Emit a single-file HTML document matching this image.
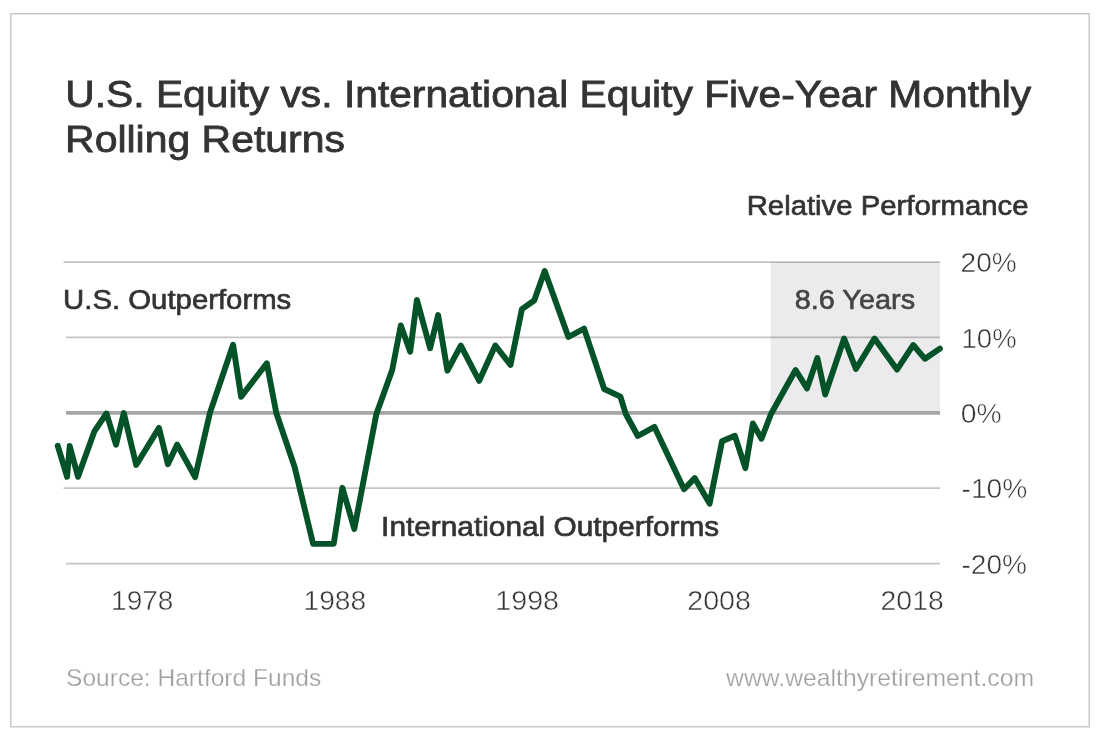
<!DOCTYPE html>
<html>
<head>
<meta charset="utf-8">
<style>
html,body{margin:0;padding:0;background:#fff;}
body{width:1100px;height:738px;overflow:hidden;}
svg{display:block;will-change:transform;}
text{font-family:"Liberation Sans",Arial,Helvetica,sans-serif;}
</style>
</head>
<body>
<svg width="1100" height="738" viewBox="0 0 1100 738">
  <rect x="0" y="0" width="1100" height="738" fill="#fff"/>
  <rect x="10.75" y="13.75" width="1078.5" height="713" fill="#fff" stroke="#c9c9c9" stroke-width="1.5"/>

  <!-- title -->
  <g fill="#333" stroke="#333" stroke-width="0.8">
  <text x="65.3" y="106.8" font-size="37.5" textLength="965.8" lengthAdjust="spacingAndGlyphs">U.S. Equity vs. International Equity Five-Year Monthly</text>
  <text x="65.1" y="151.8" font-size="37.5" textLength="279.8" lengthAdjust="spacingAndGlyphs">Rolling Returns</text>
  </g>

  <!-- labels -->
  <g fill="#333" stroke="#333" stroke-width="0.65">
  <text x="746.7" y="214.8" font-size="27" textLength="281.8" lengthAdjust="spacingAndGlyphs">Relative Performance</text>
  </g>

  <!-- shaded region -->
  <rect x="770.6" y="262" width="169.3" height="150" fill="#ebebed"/>

  <!-- grid -->
  <g stroke="#000" stroke-opacity="0.23" stroke-width="1.6">
    <line x1="63.5" y1="262.1" x2="940" y2="262.1"/>
    <line x1="66" y1="337.4" x2="940" y2="337.4"/>
    <line x1="63.5" y1="488.1" x2="940" y2="488.1"/>
    <line x1="66" y1="563.6" x2="940" y2="563.6"/>
  </g>
  <line x1="66" y1="412.9" x2="940" y2="412.9" stroke="#a6a6a8" stroke-width="3.6"/>

  <g fill="#333" stroke="#333" stroke-width="0.65">
  <text x="63.1" y="309.2" font-size="27" textLength="228.2" lengthAdjust="spacingAndGlyphs">U.S. Outperforms</text>
  <text x="381.1" y="535.6" font-size="27.5" textLength="338.2" lengthAdjust="spacingAndGlyphs">International Outperforms</text>
  </g>
  <g fill="#444" stroke="#444" stroke-width="0.6">
  <text x="794.7" y="309.3" font-size="27.5" textLength="120.4" lengthAdjust="spacingAndGlyphs">8.6 Years</text>
  </g>

  <!-- y labels -->
  <g fill="#333" stroke="#fff" stroke-width="0.5">
  <text x="960.6" y="272.2" font-size="27" textLength="56.2" lengthAdjust="spacingAndGlyphs">20%</text>
  <text x="961.6" y="347.6" font-size="27" textLength="55.0" lengthAdjust="spacingAndGlyphs">10%</text>
  <text x="960.8" y="422.8" font-size="27" textLength="40.8" lengthAdjust="spacingAndGlyphs">0%</text>
  <text x="961.5" y="498.2" font-size="27" textLength="65.8" lengthAdjust="spacingAndGlyphs">-10%</text>
  <text x="961.5" y="573.8" font-size="27" textLength="65.5" lengthAdjust="spacingAndGlyphs">-20%</text>
  </g>
  <!-- x labels -->
  <g fill="#333" stroke="#fff" stroke-width="0.5">
  <text x="111.1" y="609.6" font-size="27" textLength="62.3" lengthAdjust="spacingAndGlyphs">1978</text>
  <text x="303.5" y="609.6" font-size="27" textLength="62.6" lengthAdjust="spacingAndGlyphs">1988</text>
  <text x="495.3" y="609.6" font-size="27" textLength="63.7" lengthAdjust="spacingAndGlyphs">1998</text>
  <text x="687.2" y="609.6" font-size="27" textLength="63.8" lengthAdjust="spacingAndGlyphs">2008</text>
  <text x="880.6" y="609.6" font-size="27" textLength="63.1" lengthAdjust="spacingAndGlyphs">2018</text>
  </g>

  <!-- data line -->
  <polyline fill="none" stroke="#045227" stroke-width="5.9" stroke-linejoin="round" stroke-linecap="round"
    points="57.7,445.7 67.1,476.8 69.7,446 78,476.8 94.5,431.1 106.5,413.5 116,444.7 123.8,413 136.2,465 159,427.9 167.9,464.2 177.2,444.6 195.1,477.2 210,412.6 233.1,344.8 241.1,396.8 266.8,363.3 276.3,413 294.7,467.2 313.1,543.9 333.7,543.9 342.4,487.8 354.3,529 376.3,414.3 392.2,370 400.8,325.5 410.2,351.7 416.9,299.9 430.1,348.2 438.1,315.1 447.4,370.7 460.8,345.6 479.2,380.8 495.3,345.5 510.5,365 521.9,309.1 534.2,300.5 544.7,271.1 568.4,337 584.1,328.6 604.2,389 620.4,396.6 625.8,414 637.8,436 654.5,426.9 684,489.3 694.7,478.1 709.6,503.6 722,441.3 734.9,435.8 745.4,468.1 752.9,423.5 761.5,438.7 771,414 795.6,370 807,388.4 817.4,358 825.2,394.5 844.1,338.5 855.9,369 874.5,338.5 897,369.6 913.2,345 925,358.8 939.9,348.6"/>

  <!-- footer -->
  <g fill="#a0a0a0" stroke="#fff" stroke-width="0.25">
  <text x="66.0" y="685.6" font-size="24" textLength="255.3" lengthAdjust="spacingAndGlyphs">Source: Hartford Funds</text>
  <text x="726.1" y="685.6" font-size="24" textLength="307.9" lengthAdjust="spacingAndGlyphs">www.wealthyretirement.com</text>
  </g>
</svg>
</body>
</html>
